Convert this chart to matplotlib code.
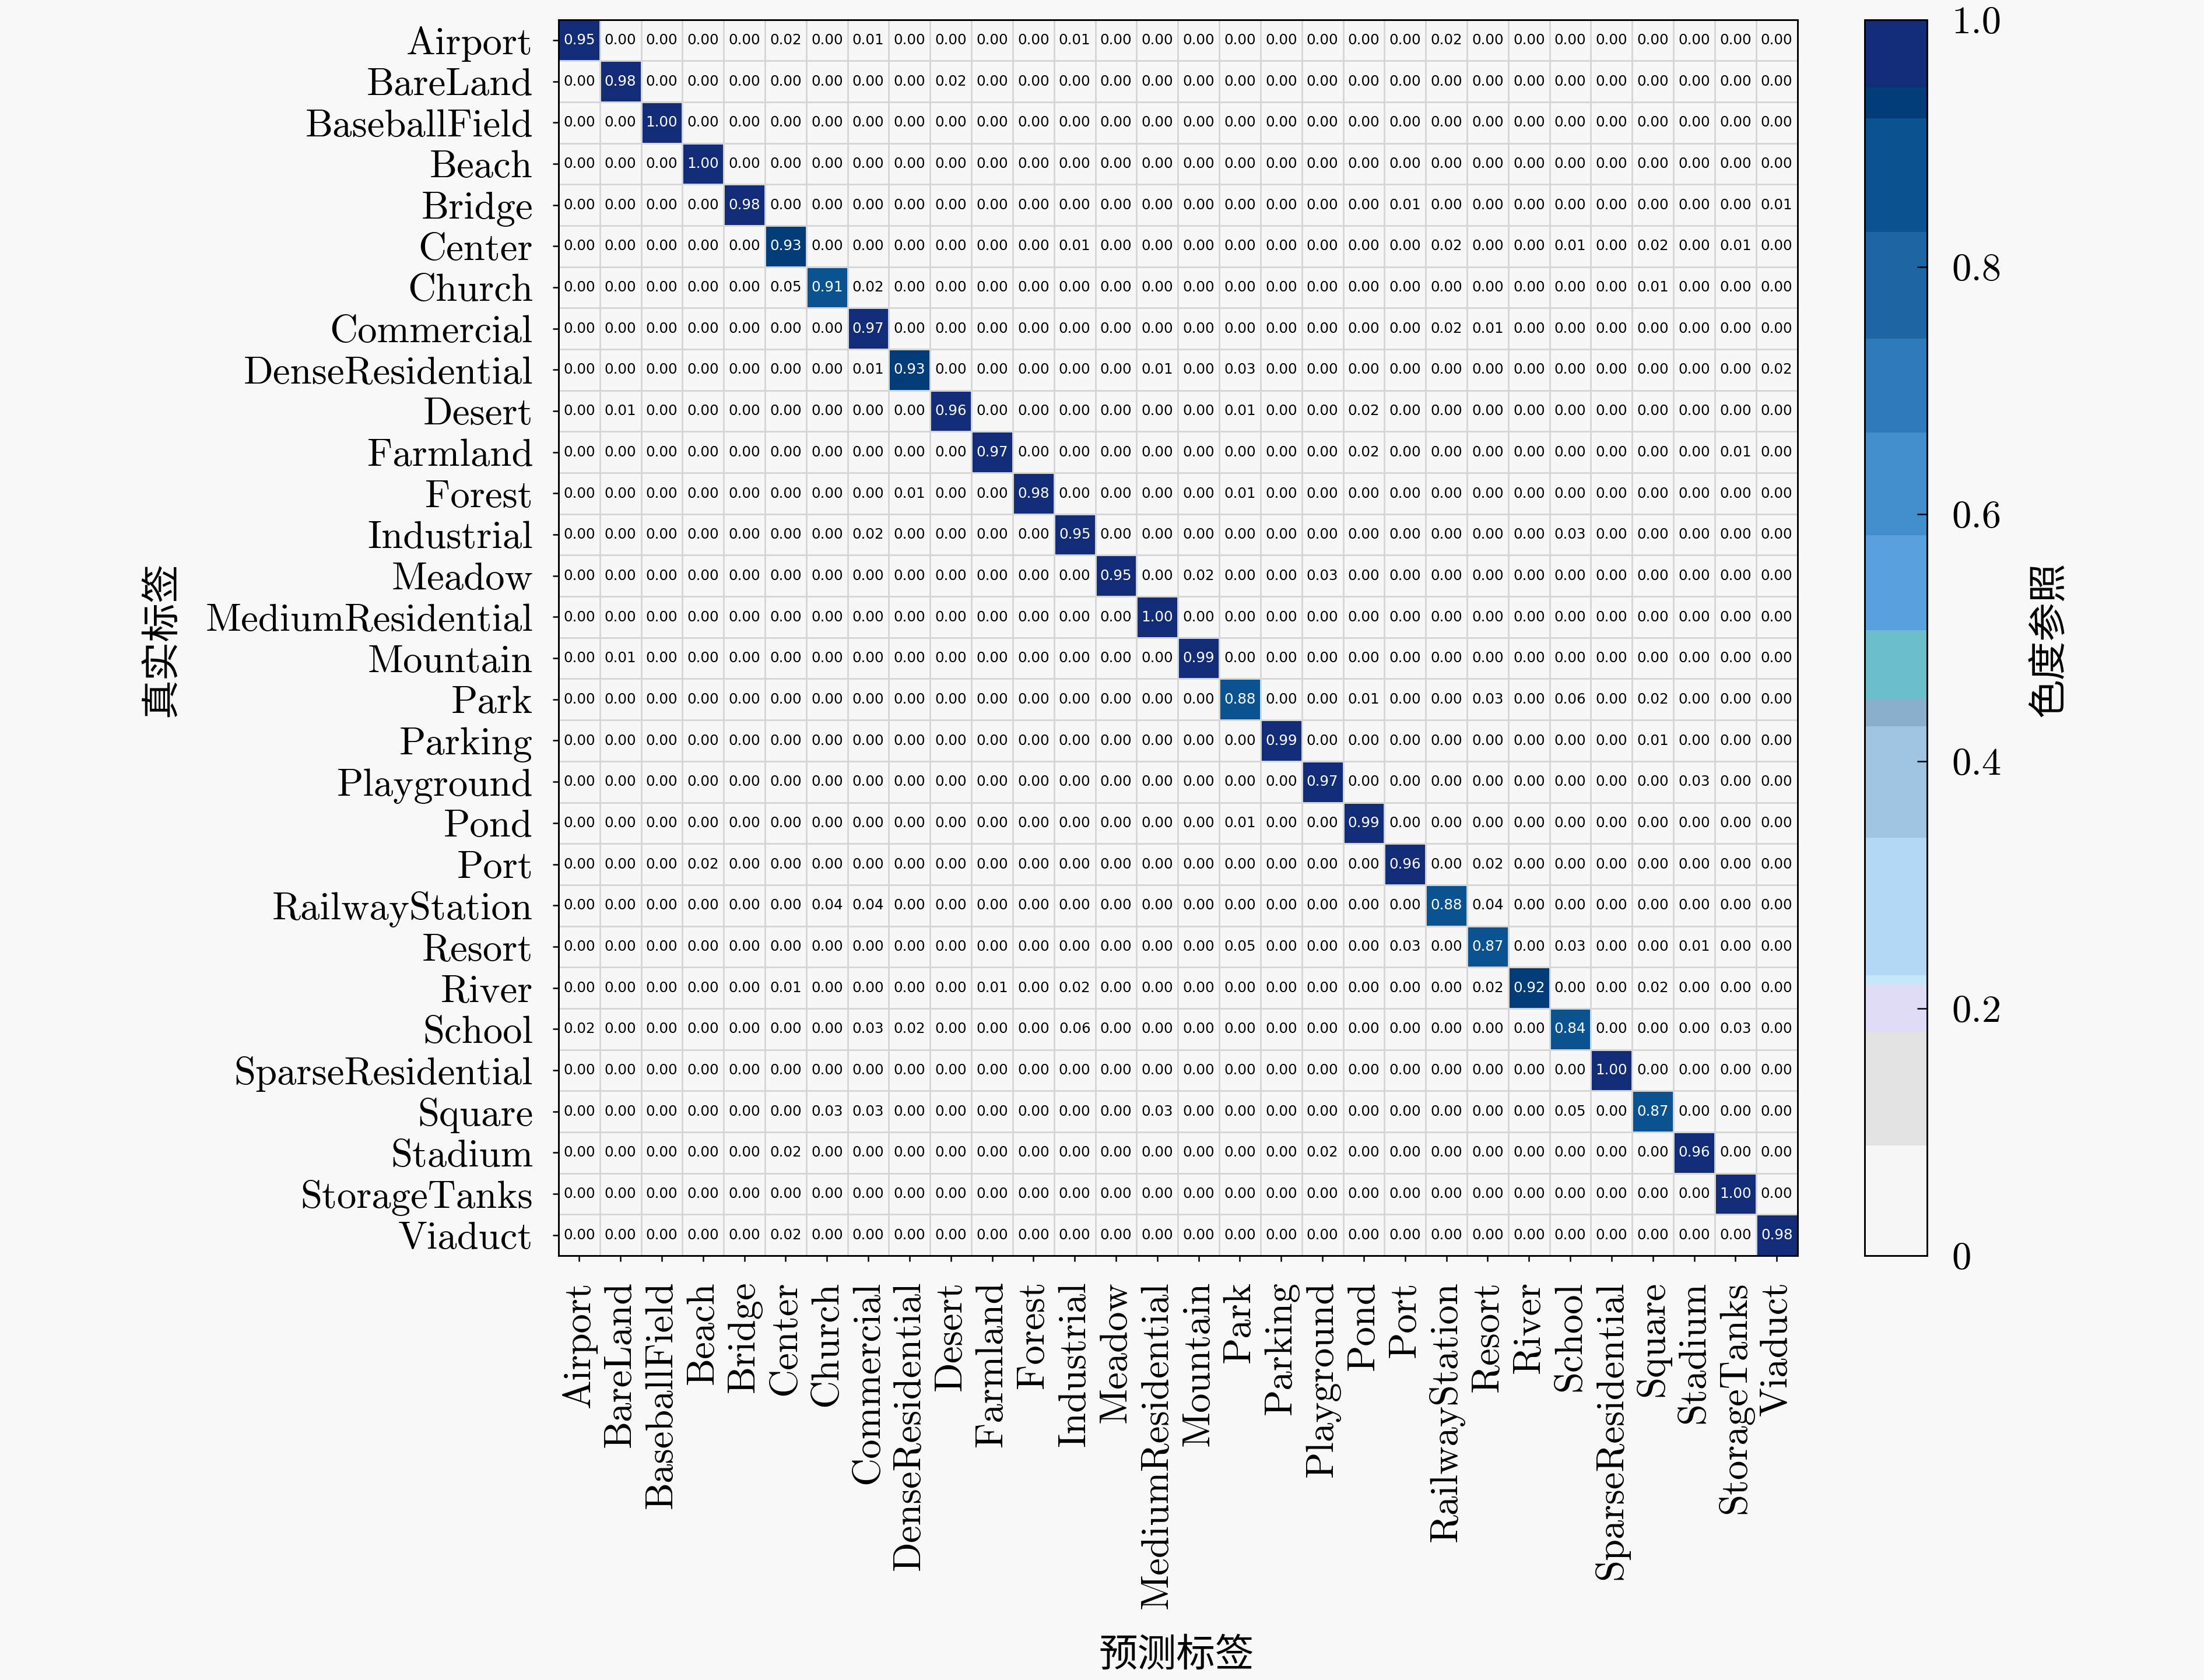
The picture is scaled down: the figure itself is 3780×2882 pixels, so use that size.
import numpy as np
import matplotlib
matplotlib.use("Agg")
import matplotlib.pyplot as plt
from matplotlib.colors import ListedColormap, BoundaryNorm

classes = ["Airport", "BareLand", "BaseballField", "Beach", "Bridge", "Center",
           "Church", "Commercial", "DenseResidential", "Desert", "Farmland",
           "Forest", "Industrial", "Meadow", "MediumResidential", "Mountain",
           "Park", "Parking", "Playground", "Pond", "Port", "RailwayStation",
           "Resort", "River", "School", "SparseResidential", "Square",
           "Stadium", "StorageTanks", "Viaduct"]

# diagonal (correct) rates, one per true class
diag = [0.95, 0.98, 1.00, 1.00, 0.98, 0.93, 0.91, 0.97, 0.93, 0.96,
        0.97, 0.98, 0.95, 0.95, 1.00, 0.99, 0.88, 0.99, 0.97, 0.99,
        0.96, 0.88, 0.87, 0.92, 0.84, 1.00, 0.87, 0.96, 1.00, 0.98]

# off-diagonal confusions: (true row, predicted col, value)
off_diag = [
    (0, 5, 0.02), (0, 7, 0.01), (0, 12, 0.01), (0, 21, 0.02),
    (1, 9, 0.02),
    (4, 20, 0.01), (4, 29, 0.01),
    (5, 12, 0.01), (5, 21, 0.02), (5, 24, 0.01), (5, 26, 0.02), (5, 28, 0.01),
    (6, 5, 0.05), (6, 7, 0.02), (6, 26, 0.01),
    (7, 21, 0.02), (7, 22, 0.01),
    (8, 7, 0.01), (8, 14, 0.01), (8, 16, 0.03), (8, 29, 0.02),
    (9, 1, 0.01), (9, 16, 0.01), (9, 19, 0.02),
    (10, 19, 0.02), (10, 28, 0.01),
    (11, 8, 0.01), (11, 16, 0.01),
    (12, 7, 0.02), (12, 24, 0.03),
    (13, 15, 0.02), (13, 18, 0.03),
    (15, 1, 0.01),
    (16, 19, 0.01), (16, 22, 0.03), (16, 24, 0.06), (16, 26, 0.02),
    (17, 26, 0.01),
    (18, 27, 0.03),
    (19, 16, 0.01),
    (20, 3, 0.02), (20, 22, 0.02),
    (21, 6, 0.04), (21, 7, 0.04), (21, 22, 0.04),
    (22, 16, 0.05), (22, 20, 0.03), (22, 24, 0.03), (22, 27, 0.01),
    (23, 5, 0.01), (23, 10, 0.01), (23, 12, 0.02), (23, 22, 0.02), (23, 26, 0.02),
    (24, 0, 0.02), (24, 7, 0.03), (24, 8, 0.02), (24, 12, 0.06), (24, 28, 0.03),
    (26, 6, 0.03), (26, 7, 0.03), (26, 14, 0.03), (26, 24, 0.05),
    (27, 5, 0.02), (27, 18, 0.02),
    (29, 5, 0.02),
]

n = len(classes)
cm = np.zeros((n, n))
cm[np.arange(n), np.arange(n)] = diag
for r, c, v in off_diag:
    cm[r, c] = v

# stepped colour scale as seen on the colour bar
bounds = [0, 0.089, 0.181, 0.219, 0.227, 0.338, 0.428, 0.45, 0.506, 0.583,
          0.666, 0.742, 0.828, 0.92, 0.945, 1.0]
colors = ['#f7f7f7', '#e3e3e3', '#e0dcf8', '#c6e6fa', '#b3d7f4', '#a0c3e2',
          '#8aafcc', '#6cbecb', '#58a1dd', '#428ecc', '#2f7aba', '#1d65a3',
          '#0a5290', '#023d7a', '#132c78']
cmap = ListedColormap(colors)
norm = BoundaryNorm(bounds, cmap.N)

bg = '#f8f8f8'
fig = plt.figure(figsize=(12.6, 9.607), dpi=300, facecolor=bg)
ax = fig.add_axes([0.2534, 0.2526, 0.8155 - 0.2534, 0.9883 - 0.2526])
cax = fig.add_axes([0.8461, 0.2526, 0.8744 - 0.8461, 0.9883 - 0.2526])
ax.set_facecolor(bg)

im = ax.imshow(cm, cmap=cmap, norm=norm, aspect='auto', interpolation='nearest')

for i in range(n):
    for j in range(n):
        v = cm[i, j]
        ax.text(j, i, "%.2f" % v, ha='center', va='center', fontsize=5.9,
                family='DejaVu Sans', color='white' if v > 0.5 else 'black')

ax.set_xticks(np.arange(n))
ax.set_yticks(np.arange(n))
ax.set_xticklabels(classes, rotation=90, family='cmr10', fontsize=16)
ax.set_yticklabels(classes, family='cmr10', fontsize=16)
ax.tick_params(axis='both', which='major', length=2.5, width=0.6, pad=8)
ax.set_xticks(np.arange(-0.5, n, 1), minor=True)
ax.set_yticks(np.arange(-0.5, n, 1), minor=True)
ax.tick_params(which='minor', length=0)
ax.grid(which='minor', color='#d6d6d6', linewidth=0.7)
for s in ax.spines.values():
    s.set_linewidth(0.7)

cb = fig.colorbar(im, cax=cax, spacing='proportional')
cb.set_ticks([0, 0.2, 0.4, 0.6, 0.8, 1.0])
cb.set_ticklabels(['0', '0.2', '0.4', '0.6', '0.8', '1.0'])
cb.ax.minorticks_off()
cb.ax.tick_params(direction='in', length=4, width=0.6, pad=10, labelsize=16)
for lab in cb.ax.get_yticklabels():
    lab.set_family('cmr10')
cb.outline.set_linewidth(0.7)

cjk = ['Noto Sans CJK SC', 'DejaVu Sans']
fig.text(2018 / 3780, 1 - 2840 / 2882, "预测标签", ha='center', va='center',
         fontsize=16, family=cjk)
fig.text(277 / 3780, 1 - 1097 / 2882, "真实标签", ha='center', va='center',
         rotation=90, fontsize=16, family=cjk)
fig.text(3515 / 3780, 1 - 1097 / 2882, "色度参照", ha='center', va='center',
         rotation=90, fontsize=16, family=cjk)

plt.savefig("out.png", dpi=300, facecolor=bg)
plt.close()
